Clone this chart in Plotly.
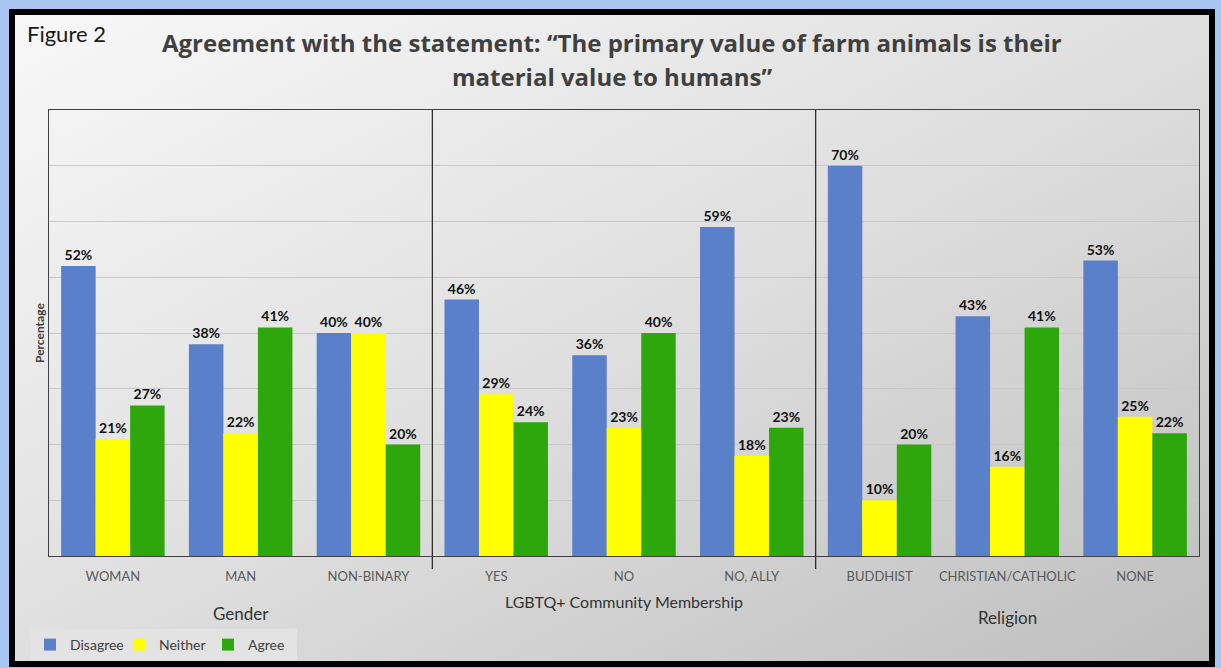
import base64
import plotly.graph_objects as go

# ---------------- data ----------------
categories = ["WOMAN", "MAN", "NON-BINARY", "YES", "NO", "NO, ALLY",
              "BUDDHIST", "CHRISTIAN/CATHOLIC", "NONE"]
group_names = ["Gender", "LGBTQ+ Community Membership", "Religion"]
group_sizes = [3, 3, 3]
disagree = [52, 38, 40, 46, 36, 59, 70, 43, 53]
neither = [21, 22, 40, 29, 23, 18, 10, 16, 25]
agree = [27, 41, 20, 24, 40, 23, 20, 41, 22]
series_names = ["Disagree", "Neither", "Agree"]

# ---------------- layout helpers ----------------
W, H = 1221, 668
ML, MR, MT, MB = 49, 22, 110, 112
PW, PH = W - ML - MR, H - MT - MB


def px_x(px):
    return (px - ML) / PW


def px_y(py):
    return (H - MB - py) / PH


colors = ["#5a80c9", "#ffff00", "#2ea70d"]
FONT = "Lato, 'Open Sans', sans-serif"
TFONT = "'Open Sans', Lato, sans-serif"

xs = list(range(len(categories)))
fig = go.Figure()
for name, vals, col in zip(series_names, [disagree, neither, agree], colors):
    fig.add_trace(go.Bar(
        x=xs, y=vals, name=name, marker=dict(color=col, line=dict(width=0)),
        text=[f"{v}%" for v in vals], textposition="outside",
        textfont=dict(family=FONT, size=14, color="#111111", weight="bold"),
        cliponaxis=False,
    ))

# gradient background
svg = ('<svg xmlns="http://www.w3.org/2000/svg" width="1200" height="650" '
       'preserveAspectRatio="none"><defs><linearGradient id="g" x1="0" y1="0" x2="1" y2="1">'
       '<stop offset="0" stop-color="#f8f8f8"/><stop offset="0.5" stop-color="#dfdfdf"/>'
       '<stop offset="1" stop-color="#bebebe"/></linearGradient></defs>'
       '<rect width="1200" height="650" fill="url(#g)"/></svg>')
src = "data:image/svg+xml;base64," + base64.b64encode(svg.encode()).decode()

shapes = []
# frame
shapes.append(dict(type="rect", xref="paper", yref="paper",
                   x0=px_x(12), x1=px_x(1212), y0=px_y(664), y1=px_y(12),
                   line=dict(color="#000000", width=6), layer="above"))
# group dividers
pos = 0
for s in group_sizes[:-1]:
    pos += s
    shapes.append(dict(type="line", xref="x", yref="paper",
                       x0=pos - 0.5, x1=pos - 0.5, y0=px_y(569), y1=1,
                       line=dict(color="#222222", width=1.2)))

annotations = []
# group labels
label_y = [613, 601, 617]
label_size = [17, 16, 17]
start = 0
for gname, s, ly, fs in zip(group_names, group_sizes, label_y, label_size):
    annotations.append(dict(text=gname, x=start + (s - 1) / 2, xref="x",
                            y=px_y(ly), yref="paper", showarrow=False,
                            xanchor="center", yanchor="middle",
                            font=dict(family=FONT, size=fs, color="#333333")))
    start += s

annotations.append(dict(text="Figure 2", x=px_x(25), xref="paper", y=px_y(33), yref="paper",
                        showarrow=False, xanchor="left", yanchor="middle",
                        font=dict(family=FONT, size=22, color="#1a1a1a")))
annotations.append(dict(text="Percentage", x=px_x(39), xref="paper", y=px_y(333), yref="paper",
                        showarrow=False, textangle=-90, xanchor="center", yanchor="middle",
                        font=dict(family=FONT, size=12, color="#404040", weight="bold")))
annotations.append(dict(text="Agreement with the statement: \u201cThe primary value of farm animals is their",
                        x=px_x(612), xref="paper", y=px_y(42), yref="paper", showarrow=False,
                        xanchor="center", yanchor="middle",
                        font=dict(family=TFONT, size=24, color="#404040", weight="bold")))
annotations.append(dict(text="material value to humans\u201d",
                        x=px_x(612), xref="paper", y=px_y(77), yref="paper", showarrow=False,
                        xanchor="center", yanchor="middle",
                        font=dict(family=TFONT, size=24, color="#404040", weight="bold")))

fig.update_layout(
    width=W, height=H,
    margin=dict(l=ML, r=MR, t=MT, b=MB, autoexpand=False),
    paper_bgcolor="#a9c6f2",
    plot_bgcolor="rgba(0,0,0,0)",
    barmode="group", bargap=0.19, bargroupgap=0,
    images=[dict(source=src, xref="paper", yref="paper",
                 x=px_x(14), y=px_y(14), sizex=(1210 - 14) / PW, sizey=(661 - 14) / PH,
                 sizing="stretch", layer="below", xanchor="left", yanchor="top")],
    shapes=shapes,
    annotations=annotations,
    legend=dict(orientation="h", x=px_x(30), y=px_y(629), xanchor="left", yanchor="top",
                bgcolor="#e3e3e3", font=dict(family=FONT, size=14, color="#404040"),
                itemwidth=30, entrywidth=44, entrywidthmode="pixels",
                traceorder="normal", tracegroupgap=0),
    xaxis=dict(tickmode="array", tickvals=xs, ticktext=categories, range=[-0.5, len(xs) - 0.5],
               showline=True, linecolor="#404040", linewidth=1, mirror=True,
               ticks="outside", ticklen=8, tickcolor="rgba(0,0,0,0)",
               tickfont=dict(family=FONT, size=13, color="#595959"), showgrid=False),
    yaxis=dict(range=[0, 80], dtick=10, showticklabels=False, showgrid=True,
               gridcolor="#c9c9c9", gridwidth=1, showline=True, linecolor="#404040",
               linewidth=1, mirror=True, zeroline=False, ticks=""),
    font=dict(family=FONT),
)

fig.write_html("out.html")
